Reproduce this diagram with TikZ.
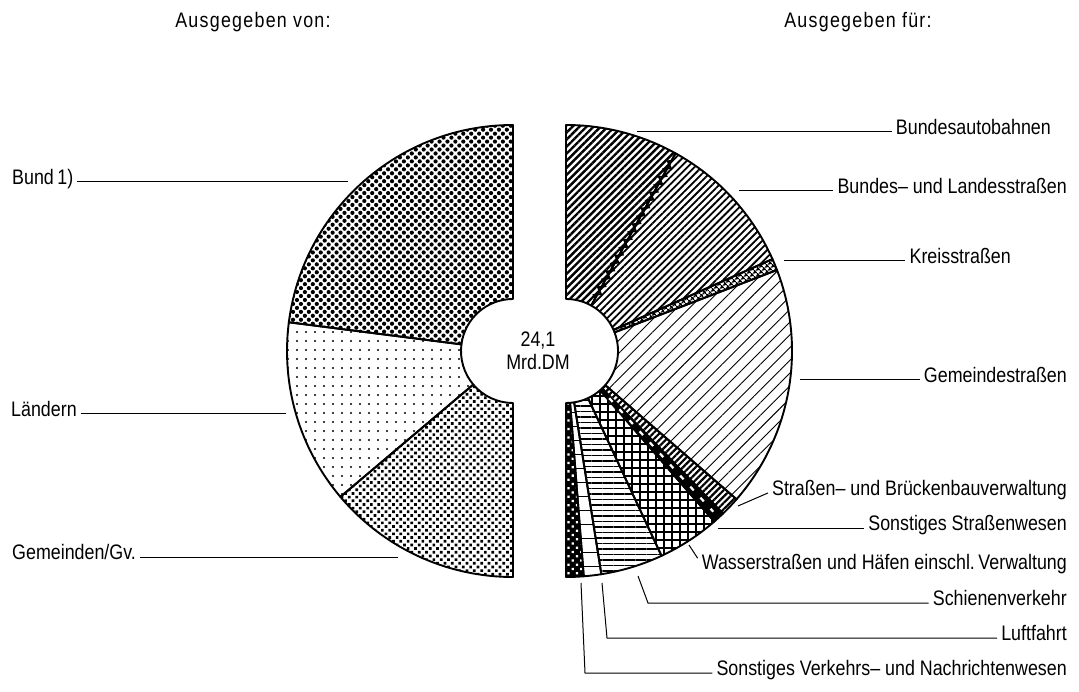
\documentclass[tikz,border=0pt]{standalone}
\usepackage{fontspec}
\setmainfont{Liberation Sans}[FakeStretch=0.85]
\usetikzlibrary{patterns.meta,decorations.pathmorphing}

\newcommand\outR{226}
\newcommand\innR{52}
% one piece of the ring, from angle #1 to angle #2
\newcommand\ringpart[2]{(#1:\outR) arc[start angle=#1,end angle=#2,radius=\outR]
  -- (#2:\innR) arc[start angle=#2,end angle=#1,radius=\innR] -- cycle}

\begin{document}
\begin{tikzpicture}[
    x=1pt, y=1pt,
    font=\fontsize{21}{24}\selectfont,
    lbl/.style = {inner sep=4pt, text height=0.72em, text depth=0.2em},
    leader/.style = {line width=1pt},
    ring/.style = {draw, line width=1.9pt, line join=round},
    bund/.style = {ring, pattern={Dots[angle=45,distance=5.6pt,radius=2.1pt]}},
    laender/.style = {ring, pattern={Dots[distance=9pt,radius=1.2pt]}},
    gemeinden/.style = {ring, pattern={Dots[angle=45,distance=5.2pt,radius=1.9pt]}},
    bab/.style = {ring, pattern={Lines[angle=45,distance=5pt,line width=2.4pt]}},
    bul/.style = {ring, pattern={Lines[angle=45,distance=5pt,line width=1.8pt]}},
    krs/.style = {ring, pattern={Hatch[angle=45,distance=4pt,line width=1.5pt]}},
    gem/.style = {ring, pattern={Lines[angle=45,distance=9pt,line width=0.9pt]}},
    sbv/.style = {ring, pattern={Lines[angle=45,distance=4.5pt,line width=2.2pt]}},
    sstr/.style = {ring, fill=black},
    wsh/.style = {ring, pattern={Hatch[angle=0,distance=8pt,line width=1.3pt]}},
    sch/.style = {ring, pattern={Lines[angle=0,distance=5.5pt,line width=1.9pt]}},
    luf/.style = {ring, pattern={Lines[angle=0,distance=14pt,line width=0.8pt]}},
    svn/.style = {ring, preaction={fill=black}, pattern={Dots[angle=45,distance=6pt,radius=1.6pt]}, pattern color=white}
  ]
  \useasboundingbox (0,0) rectangle (1079,-692);

  % left half: Ausgegeben von
  \begin{scope}[shift={(513,-351)}]
    \foreach \a/\b/\s in {90/172.7/bund, 172.7/220.2/laender, 220.2/270/gemeinden}
      \path[\s] \ringpart{\a}{\b};
  \end{scope}

  % right half: Ausgegeben fuer
  \begin{scope}[shift={(566,-351)}]
    \foreach \a/\b/\s in {90/61/bab, 61/24/bul, 24/21/krs, 21/-41/gem, -41/-46/sbv,
        -46/-49/sstr, -49/-65/wsh, -65/-81/sch, -81/-85.5/luf, -85.5/-90/svn}
      \path[\s] \ringpart{\a}{\b};
    \draw[line width=1.8pt, decorate, decoration={zigzag, segment length=9pt, amplitude=3pt}]
      (61:60) -- (61:218);
    \draw[white, line width=2.2pt, dash pattern=on 5pt off 10pt] (-47.5:64) -- (-47.5:218);
  \end{scope}

  \node (total) [align=center, font=\fontsize{21}{23}\selectfont] at (538,-351) {24,1\\Mrd.DM};

  \node (von) at (253,-22) {\addfontfeature{LetterSpace=6}Ausgegeben von:};
  \node (fuer) at (858,-22) {\addfontfeature{LetterSpace=6}Ausgegeben für:};

  % labels left
  \node[lbl, anchor=west] (bund) at (8,-182) {Bund\,1)};
  \node[lbl, anchor=west] (laender) at (7,-414) {Ländern};
  \node[lbl, anchor=west] (gemeinden) at (8,-557) {Gemeinden/Gv.};
  \coordinate (bund-pt) at (348,-182);
  \coordinate (laender-pt) at (286,-414);
  \coordinate (gemeinden-pt) at (398,-557);
  \draw[leader] (bund) -- (bund-pt);
  \draw[leader] (laender) -- (laender-pt);
  \draw[leader] (gemeinden) -- (gemeinden-pt);

  % labels right
  \node[lbl, anchor=east] (bab) at (1055,-132) {Bundesautobahnen};
  \node[lbl, anchor=east] (bul) at (1071,-191) {Bundes-- und Landesstraßen};
  \node[lbl, anchor=east] (krs) at (1015,-261) {Kreisstraßen};
  \node[lbl, anchor=east] (gem) at (1071,-380) {Gemeindestraßen};
  \node[lbl, anchor=east] (sbv) at (1071,-493) {Straßen-- und Brückenbauverwaltung};
  \node[lbl, anchor=east] (sstr) at (1071,-528) {Sonstiges Straßenwesen};
  \node[lbl, anchor=east] (wsh) at (1071,-567) {Wasserstraßen und Häfen einschl.\,Verwaltung};
  \node[lbl, anchor=east] (sch) at (1071,-603) {Schienenverkehr};
  \node[lbl, anchor=east] (luf) at (1071,-638) {Luftfahrt};
  \node[lbl, anchor=east] (svn) at (1071,-673) {Sonstiges Verkehrs-- und Nachrichtenwesen};

  \coordinate (bab-pt) at (637,-132);
  \coordinate (bul-pt) at (739,-191);
  \coordinate (krs-pt) at (784,-261);
  \coordinate (gem-pt) at (800,-380);
  \coordinate (sbv-pt) at (738,-506);
  \coordinate (sstr-pt) at (718,-528);
  \coordinate (wsh-pt) at (689,-545);
  \coordinate (sch-pt) at (638,-576);
  \coordinate (sch-bend) at (648,-603);
  \coordinate (luf-pt) at (602,-583);
  \coordinate (luf-bend) at (607,-638);
  \coordinate (svn-pt) at (581,-583);
  \coordinate (svn-bend) at (585,-673);

  \draw[leader] (bab-pt) -- (bab);
  \draw[leader] (bul-pt) -- (bul);
  \draw[leader] (krs-pt) -- (krs);
  \draw[leader] (gem-pt) -- (gem);
  \draw[leader] (sbv-pt) -- (sbv.west);
  \draw[leader] (sstr-pt) -- (sstr);
  \draw[leader] (wsh-pt) -- (wsh.north west);
  \draw[leader] (sch-pt) -- (sch-bend) -- (sch);
  \draw[leader] (luf-pt) -- (luf-bend) -- (luf);
  \draw[leader] (svn-pt) -- (svn-bend) -- (svn);
\end{tikzpicture}
\end{document}
